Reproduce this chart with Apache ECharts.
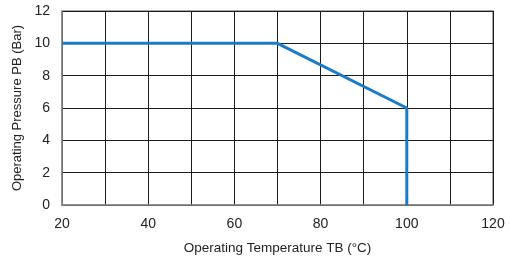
<!DOCTYPE html>
<html>
<head>
<meta charset="utf-8">
<script src="https://cdn.jsdelivr.net/npm/echarts@6/dist/echarts.min.js"></script>
<style>
  html, body { margin: 0; padding: 0; background: #fff; }
  #chart { width: 510px; height: 260px; }
</style>
</head>
<body>
<div id="chart"></div>
<script>
  // curve points: temperature (°C) vs pressure (Bar)
  let temps = [20, 70, 100, 100]
  let pressures = [10, 10, 6, 0]
  let xTicks = [20, 40, 60, 80, 100, 120]
  let yTicks = [0, 2, 4, 6, 8, 10, 12]

  let font = '"Liberation Sans", Arial, sans-serif'
  let myChart = echarts.init(document.getElementById('chart'))
  let option = {
    animation: false,
    grid: {
      left: 62,
      right: 17,
      top: 11,
      bottom: 52,
      show: true,
      borderColor: '#8c8c8c',
      borderWidth: 1.5
    },
    xAxis: {
      type: 'value',
      min: xTicks[0],
      max: xTicks[xTicks.length - 1],
      interval: 10,
      name: 'Operating Temperature TB (°C)',
      nameLocation: 'middle',
      nameGap: 36,
      nameTextStyle: { color: '#222', fontSize: 13.5, fontFamily: font },
      axisLine: { show: true, lineStyle: { color: '#8c8c8c', width: 1.5 } },
      axisTick: { show: false },
      axisLabel: {
        color: '#222', fontSize: 14, fontFamily: font, margin: 12,
        formatter: v => xTicks.indexOf(v) >= 0 ? String(v) : ''
      },
      splitLine: { show: true, lineStyle: { color: '#1a1a1a', width: 1 } }
    },
    yAxis: {
      type: 'value',
      min: yTicks[0],
      max: yTicks[yTicks.length - 1],
      interval: 2,
      name: 'Operating Pressure PB (Bar)',
      nameLocation: 'middle',
      nameGap: 36,
      nameTextStyle: { color: '#222', fontSize: 13, fontFamily: font },
      axisLine: { show: true, lineStyle: { color: '#8c8c8c', width: 1.5 } },
      axisTick: { show: false },
      axisLabel: { color: '#222', fontSize: 14, fontFamily: font, margin: 12 },
      splitLine: { show: true, lineStyle: { color: '#1a1a1a', width: 1 } }
    },
    series: [{
      type: 'line',
      data: temps.map((t, i) => [t, pressures[i]]),
      symbol: 'none',
      lineStyle: { color: '#1a7cc4', width: 3 },
      z: 5
    }]
  }
  myChart.setOption(option)
</script>
</body>
</html>
